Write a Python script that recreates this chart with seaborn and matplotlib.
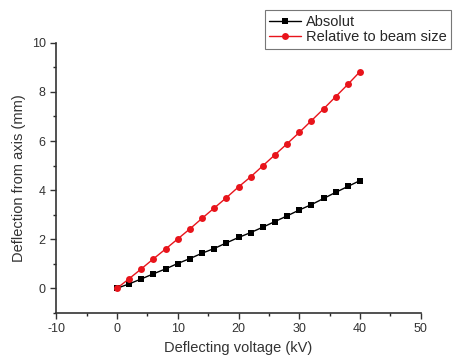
"""Deflection from axis vs deflecting voltage."""

import matplotlib

matplotlib.use("Agg")
import matplotlib.pyplot as plt
import numpy as np
import pandas as pd
import seaborn as sns
from matplotlib.ticker import AutoMinorLocator, MultipleLocator

voltage_kv = [0, 2, 4, 6, 8, 10, 12, 14, 16, 18, 20, 22, 24, 26, 28, 30, 32, 34, 36, 38, 40]
absolut_mm = [0, 0.18, 0.38, 0.59, 0.79, 1.01, 1.21, 1.43, 1.62, 1.85, 2.07,
              2.27, 2.49, 2.72, 2.95, 3.19, 3.41, 3.66, 3.91, 4.15, 4.39]
relative_mm = [0, 0.39, 0.79, 1.20, 1.60, 2.01, 2.42, 2.85, 3.27, 3.69, 4.13,
               4.54, 4.99, 5.44, 5.89, 6.35, 6.83, 7.31, 7.81, 8.31, 8.83]

sns.set_style("ticks")
plt.rcParams["font.family"] = ["Liberation Sans", "DejaVu Sans"]
plt.rcParams["axes.unicode_minus"] = False

df = pd.DataFrame({"voltage": voltage_kv, "absolut": absolut_mm, "relative": relative_mm})

fig = plt.figure(figsize=(4.53, 3.6), dpi=100)
ax = fig.add_axes([0.124, 0.131, 0.805, 0.75])

sns.lineplot(data=df, x="voltage", y="absolut", ax=ax, color="black", marker="s",
             markersize=4.2, markeredgewidth=0, linewidth=1, label="Absolut")
sns.lineplot(data=df, x="voltage", y="relative", ax=ax, color="#e8141b", marker="o",
             markersize=5, markeredgewidth=0, linewidth=1, label="Relative to beam size")

ax.set_xlim(-10, 50)
ax.set_ylim(-1, 10)
ax.xaxis.set_major_locator(MultipleLocator(10))
ax.yaxis.set_major_locator(MultipleLocator(2))
ax.xaxis.set_minor_locator(AutoMinorLocator(2))
ax.yaxis.set_minor_locator(AutoMinorLocator(2))
ax.tick_params(which="major", length=4, width=1, labelsize=9, colors="#333333")
ax.tick_params(which="minor", length=2.5, width=1)
for s in ("right", "top"):
    ax.spines[s].set_visible(False)
for s in ("left", "bottom"):
    ax.spines[s].set_linewidth(1.2)
    ax.spines[s].set_color("#333333")

ax.set_xlabel("Deflecting voltage (kV)", fontsize=10.5, color="#333333")
ax.set_ylabel("Deflection from axis (mm)", fontsize=10.5, color="#333333")

leg = ax.legend(loc="upper left", bbox_to_anchor=(0.572, 1.12), fontsize=10.5,
                frameon=True, fancybox=False, borderpad=0.3, labelspacing=0.1,
                handlelength=2.2, handletextpad=0.3, borderaxespad=0)
leg.get_frame().set_edgecolor("#555555")
leg.get_frame().set_linewidth(0.8)

fig.savefig("out.png", dpi=100)
